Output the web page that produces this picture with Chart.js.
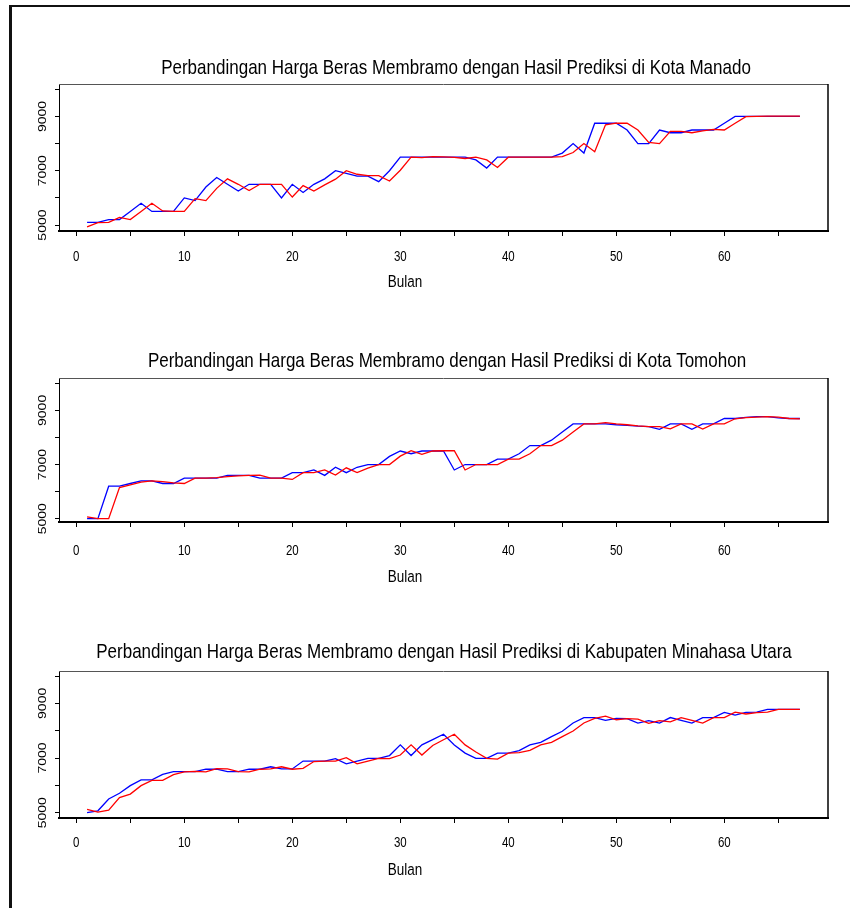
<!DOCTYPE html>
<html>
<head>
<meta charset="utf-8">
<script src="https://cdn.jsdelivr.net/npm/chart.js@4.4.1/dist/chart.umd.min.js"></script>
<style>
  html, body { margin: 0; padding: 0; background: #fff; }
  body { width: 850px; height: 908px; position: relative; overflow: hidden; }
  #frame { position: absolute; left: 9px; top: 5px; width: 900px; height: 1000px;
           border-left: 3px solid #111; border-top: 2px solid #111; }
  canvas { position: absolute; left: 0; }
</style>
</head>
<body>
<div id="frame"></div>
<canvas id="c1"></canvas>
<canvas id="c2"></canvas>
<canvas id="c3"></canvas>
<script>
// Bulan ke-1 sampai ke-67
const bulan = [1,2,3,4,5,6,7,8,9,10,11,12,13,14,15,16,17,18,19,20,21,22,23,24,25,26,27,28,29,30,
  31,32,33,34,35,36,37,38,39,40,41,42,43,44,45,46,47,48,49,50,51,52,53,54,55,56,57,58,59,60,
  61,62,63,64,65,66,67];

const xTicks = [0, 5, 10, 15, 20, 25, 30, 35, 40, 45, 50, 55, 60, 65];
const xLabels = [0, 10, 20, 30, 40, 50, 60];
const yTicks = [5000, 6000, 7000, 8000, 9000, 10000];
const yLabels = [5000, 7000, 9000];

const judul = [
  'Perbandingan Harga Beras Membramo dengan Hasil Prediksi di Kota Manado',
  'Perbandingan Harga Beras Membramo dengan Hasil Prediksi di Kota Tomohon',
  'Perbandingan Harga Beras Membramo dengan Hasil Prediksi di Kabupaten Minahasa Utara'
];

// Kota Manado
const manadoAktual = [5100,5100,5200,5200,5500,5800,5500,5500,5500,6000,5900,6400,6750,6500,6250,6500,6500,6500,6000,6500,
  6200,6500,6700,7000,6900,6800,6800,6600,7000,7500,7500,7500,7500,7500,7500,7500,7400,7100,7500,7500,
  7500,7500,7500,7500,7650,8000,7650,8750,8750,8750,8500,8000,8000,8500,8400,8400,8500,8500,8500,8750,
  9000,9000,9000,9000,9000,9000,9000];
const manadoPrediksi = [4930,5090,5100,5280,5200,5500,5800,5520,5500,5500,5970,5900,6350,6700,6500,6270,6500,6500,6500,6030,
  6450,6250,6480,6690,7000,6870,6820,6820,6620,7020,7500,7480,7520,7510,7490,7450,7500,7400,7120,7500,
  7500,7500,7500,7500,7520,7670,8000,7700,8690,8750,8750,8500,8040,8000,8450,8450,8400,8470,8520,8500,
  8750,8990,9000,9010,9010,9010,9010];

// Kota Tomohon
const tomohonAktual = [5000,5000,6200,6200,6300,6400,6400,6300,6300,6500,6500,6500,6500,6600,6600,6600,6500,6500,6500,6700,
  6700,6800,6600,6900,6700,6900,7000,7000,7300,7500,7400,7500,7500,7500,6800,7000,7000,7000,7200,7200,
  7400,7700,7700,7900,8200,8500,8500,8500,8500,8470,8450,8420,8400,8300,8500,8500,8300,8500,8500,8700,
  8700,8740,8770,8770,8720,8700,8700];
const tomohonPrediksi = [5070,5000,5000,6150,6250,6350,6400,6370,6320,6300,6500,6500,6520,6550,6580,6600,6610,6500,6500,6450,
  6700,6700,6800,6610,6880,6700,6870,7000,7000,7310,7510,7380,7500,7510,7510,6800,7000,7000,7000,7200,
  7200,7400,7700,7700,7900,8200,8500,8500,8550,8500,8470,8430,8400,8400,8320,8500,8500,8310,8500,8500,
  8690,8730,8750,8770,8750,8700,8690];

// Kabupaten Minahasa Utara
const minutAktual = [5000,5070,5500,5710,5990,6200,6200,6400,6500,6500,6500,6590,6590,6500,6500,6590,6590,6680,6600,6600,
  6890,6890,6890,6980,6790,6890,6990,6990,7090,7480,7090,7480,7670,7870,7480,7180,6990,6990,7180,7180,
  7270,7480,7570,7780,7980,8280,8480,8480,8380,8450,8440,8280,8370,8280,8480,8380,8280,8480,8480,8670,
  8570,8670,8680,8780,8780,8780,8780];
const minutPrediksi = [5120,5020,5090,5550,5680,5990,6180,6180,6390,6490,6510,6490,6610,6600,6500,6490,6590,6600,6680,6590,
  6620,6870,6890,6890,7010,6790,6890,6990,6980,7110,7480,7110,7460,7670,7870,7480,7220,6990,6960,7180,
  7200,7280,7480,7570,7780,7990,8280,8450,8530,8400,8440,8420,8270,8370,8320,8480,8380,8280,8480,8480,
  8680,8610,8660,8680,8780,8780,8780];

const FONT = "'Liberation Sans', Arial, Helvetica, sans-serif";
Chart.defaults.font.family = FONT;
Chart.defaults.color = '#000';

// posisi tiap panel di halaman (px)
const panels = [
  { id: 'c1', title: judul[0], aktual: manadoAktual, prediksi: manadoPrediksi,
    yMin: 4780, yMax: 10195, titleX: 456, titleY: 68, top: 84, bottom: 231, tickY: 257, bulanY: 282 },
  { id: 'c2', title: judul[1], aktual: tomohonAktual, prediksi: tomohonPrediksi,
    yMin: 4878, yMax: 10196, titleX: 447, titleY: 361, top: 378, bottom: 522, tickY: 551, bulanY: 577 },
  { id: 'c3', title: judul[2], aktual: minutAktual, prediksi: minutPrediksi,
    yMin: 4806, yMax: 10183, titleX: 444, titleY: 652, top: 671, bottom: 818, tickY: 843, bulanY: 870 }
];

const PLOT_LEFT = 59, PLOT_RIGHT = 828;
const STRETCH = 1.22; // teks pada gambar asli agak memanjang vertikal

// tulis teks yang diregangkan vertikal; rot dalam radian
function drawText(ctx, text, x, y, size, rot) {
  ctx.save();
  ctx.translate(x, y);
  if (rot) ctx.rotate(rot);
  ctx.scale(rot ? STRETCH : 1, rot ? 1 : STRETCH);
  ctx.font = size + 'px ' + FONT;
  ctx.fillStyle = '#000';
  ctx.textAlign = 'center';
  ctx.textBaseline = 'middle';
  ctx.fillText(text, 0, 0);
  ctx.restore();
}

// bingkai atas & kanan area plot
const framePlugin = {
  id: 'frame',
  afterDraw(chart) {
    const { ctx, chartArea: a } = chart;
    ctx.save();
    ctx.strokeStyle = '#555';
    ctx.lineWidth = 1;
    ctx.beginPath();
    ctx.moveTo(a.left, a.top + 0.5);
    ctx.lineTo(a.right, a.top + 0.5);
    ctx.stroke();
    ctx.strokeStyle = '#000';
    ctx.lineWidth = 1.5;
    ctx.beginPath();
    ctx.moveTo(a.right, a.top);
    ctx.lineTo(a.right, a.bottom);
    ctx.stroke();
    ctx.restore();
  }
};

function makeChart(p) {
  const canvasTop = p.titleY - 30;
  const canvasBottom = p.bulanY + 16;
  const cv = document.getElementById(p.id);
  cv.width = 850;
  cv.height = canvasBottom - canvasTop;
  cv.style.top = canvasTop + 'px';

  const labelPlugin = {
    id: 'labels' + p.id,
    afterDraw(chart) {
      const { ctx } = chart;
      const x = chart.scales.x, y = chart.scales.y;
      drawText(ctx, p.title, p.titleX, p.titleY - canvasTop, 17, 0);
      xLabels.forEach(v => drawText(ctx, String(v), x.getPixelForValue(v), p.tickY - canvasTop, 11.5, 0));
      yLabels.forEach(v => drawText(ctx, String(v), 43, y.getPixelForValue(v), 11.5, -Math.PI / 2));
      drawText(ctx, 'Bulan', 405, p.bulanY - canvasTop, 13.5, 0);
    }
  };

  return new Chart(cv, {
    type: 'line',
    data: {
      datasets: [
        {
          label: 'Prediksi',
          data: bulan.map((b, i) => ({ x: b, y: p.prediksi[i] })),
          borderColor: '#ff0000',
          borderWidth: 1.3,
          pointRadius: 0,
          tension: 0,
          fill: false,
        },
        {
          label: 'Aktual',
          data: bulan.map((b, i) => ({ x: b, y: p.aktual[i] })),
          borderColor: '#0000ff',
          borderWidth: 1.3,
          pointRadius: 0,
          tension: 0,
          fill: false,
        },
      ],
    },
    options: {
      responsive: false,
      animation: false,
      events: [],
      layout: { padding: { left: 0, right: 850 - PLOT_RIGHT, top: p.top - canvasTop, bottom: 0 } },
      plugins: {
        legend: { display: false },
        tooltip: { enabled: false },
        title: { display: false },
      },
      scales: {
        x: {
          type: 'linear',
          min: -1.6,
          max: 69.6,
          afterBuildTicks: (s) => { s.ticks = xTicks.map(v => ({ value: v })); },
          afterFit: (s) => { s.height = canvasBottom - p.bottom; },
          grid: { display: true, drawOnChartArea: false, drawTicks: true, tickLength: 5, color: '#000', lineWidth: 1 },
          border: { display: true, color: '#000', width: 2 },
          ticks: { display: false },
        },
        y: {
          type: 'linear',
          min: p.yMin,
          max: p.yMax,
          afterBuildTicks: (s) => { s.ticks = yTicks.map(v => ({ value: v })); },
          afterFit: (s) => { s.width = PLOT_LEFT; },
          grid: { display: true, drawOnChartArea: false, drawTicks: true, tickLength: 4, color: '#000', lineWidth: 1 },
          border: { display: true, color: '#000', width: 1 },
          ticks: { display: false },
        },
      },
    },
    plugins: [framePlugin, labelPlugin],
  });
}

panels.forEach(makeChart);
</script>
</body>
</html>
